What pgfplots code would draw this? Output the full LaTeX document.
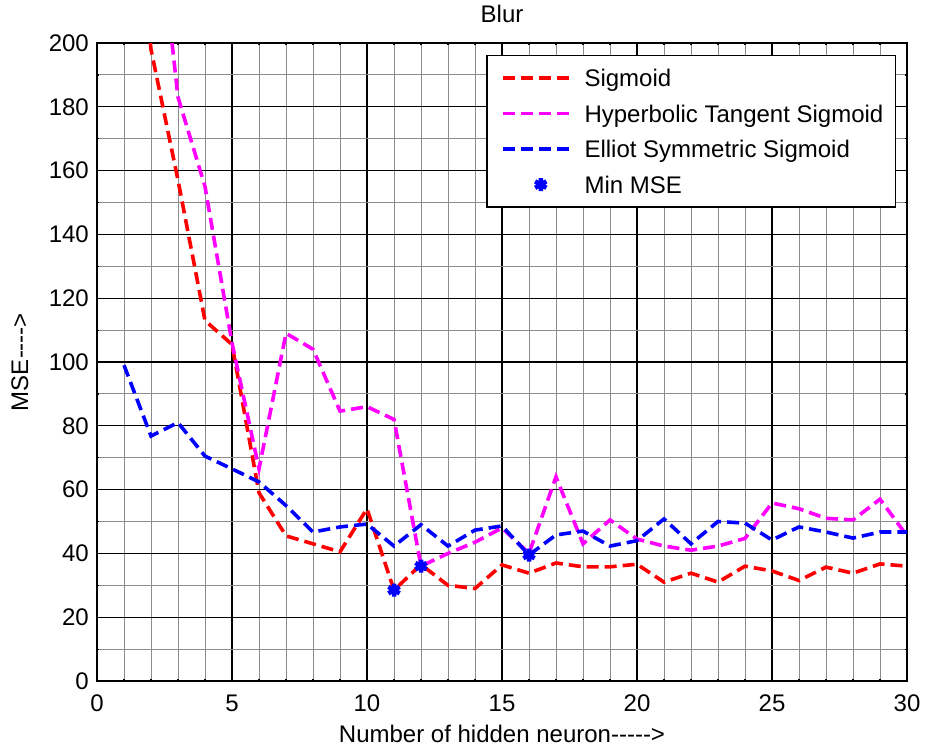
\documentclass[border=0pt]{standalone}
\usepackage{fontspec}
\setmainfont{Liberation Sans}
\usepackage{pgfplots}
\pgfplotsset{compat=1.18}

\definecolor{msered}{RGB}{255,0,0}
\definecolor{msemagenta}{RGB}{255,0,255}
\definecolor{mseblue}{RGB}{0,0,255}

% MSE per number of hidden neurons, one table per transfer function
\pgfplotstableread{
n   mse
1   290
2   198
3   157
4   113
5   105.5
6   59
7   45.5
8   43
9   40.5
10  54
11  28.5
12  36.5
13  30
14  29
15  36.4
16  33.8
17  37
18  35.8
19  35.8
20  36.6
21  31
22  33.8
23  31
24  36
25  34.5
26  31.5
27  35.7
28  33.8
29  36.7
30  36
}\sigmoid

\pgfplotstableread{
n   mse
1   380
2   260
3   183
4   155
5   106
6   66.5
7   109
8   104
9   84.6
10  86
11  82
12  36
13  40
14  43.5
15  48
16  40
17  64
18  43
19  50.5
20  44.5
21  42.3
22  41
23  42.3
24  44.7
25  55.8
26  54
27  51
28  50.5
29  57
30  45.5
}\tansig

\pgfplotstableread{
n   mse
1   99
2   76.8
3   81
4   70.5
5   66.5
6   62.4
7   55
8   46.7
9   48.3
10  49.2
11  42.3
12  49
13  42.3
14  47.3
15  48.6
16  39.5
17  45.8
18  47
19  42.3
20  44
21  50.8
22  43
23  50
24  49.5
25  44.2
26  48.3
27  46.7
28  44.8
29  46.7
30  46.7
}\elliot

\pgfplotstableread{
n   mse
11  28.5
12  36
16  39.5
}\minmse

\pgfplotsset{
  mseline legend/.style={legend image code/.code={%
    \path (-8pt,0pt) (74pt,0pt);
    \draw[##1] (0pt,0pt) -- (70pt,0pt);}},
  msemark legend/.style={legend image code/.code={%
    \path (-8pt,0pt) (74pt,0pt);
    \draw[##1] plot coordinates {(38pt,0pt)};}},
  msedash/.style={line width=3.6pt, dash pattern=on 12pt off 6pt},
}

\begin{document}
\fontsize{24}{28}\selectfont
\begin{tikzpicture}
\useasboundingbox (-97pt,-67pt) rectangle (828pt,681pt);
\begin{axis}[
  at={(0pt,0pt)}, anchor=south west,
  scale only axis, width=810pt, height=638pt,
  xmin=0, xmax=30, ymin=0, ymax=200,
  xtick={0,5,...,30}, ytick={0,20,...,200},
  minor x tick num=4, minor y tick num=1,
  grid=both,
  major grid style={black, line width=1.3pt},
  minor grid style={black!45, line width=0.9pt},
  axis line style={black, line width=1.5pt},
  tick align=inside, major tick length=4pt, minor tick length=2pt,
  tick style={black, line width=1.2pt},
  /pgf/number format/assume math mode=true,
  xticklabel style={anchor=center, yshift=-22pt},
  yticklabel style={anchor=east},
  title={Blur},
  title style={at={(axis description cs:0.5,1.036)}, anchor=center},
  xlabel={Number of hidden neuron-{}-{}-{}-{}->},
  xlabel style={at={(axis description cs:0.5,-0.0831)}, anchor=center},
  ylabel={MSE-{}-{}-{}->},
  ylabel style={at={(axis description cs:-0.0951,0.5)}, anchor=center},
  legend cell align=left,
  legend style={at={(axis description cs:0.9864,0.9812)}, anchor=north east,
    draw=black, line width=1.2pt, fill=white,
    inner xsep=6pt, inner ysep=8pt, row sep=6.5pt,
    nodes={inner ysep=3pt, inner xsep=6pt, text height=20pt, text depth=3pt}},
]
\addplot[msered, msedash, mseline legend]
  table[x=n, y=mse] {\sigmoid};
\addlegendentry{Sigmoid}
\addplot[msemagenta, msedash, mseline legend]
  table[x=n, y=mse] {\tansig};
\addlegendentry{Hyperbolic Tangent Sigmoid}
\addplot[mseblue, msedash, mseline legend]
  table[x=n, y=mse] {\elliot};
\addlegendentry{Elliot Symmetric Sigmoid}
\addplot[mseblue, only marks, mark=asterisk, mark size=6.5pt,
  mark options={line width=4.5pt, solid}, msemark legend]
  table[x=n, y=mse] {\minmse};
\addlegendentry{Min MSE}
\end{axis}
\end{tikzpicture}
\end{document}
